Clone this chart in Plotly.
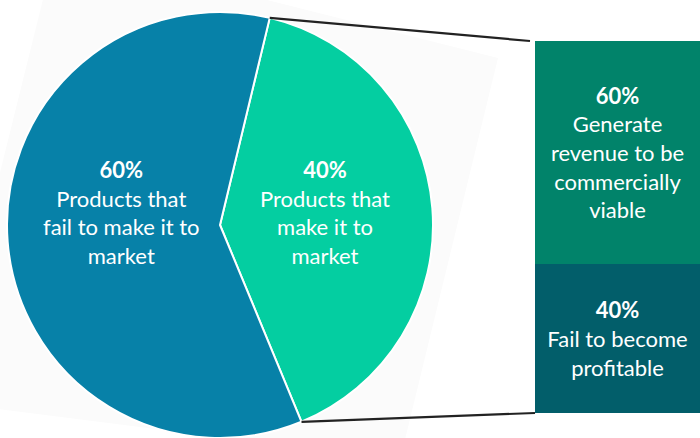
import math
import plotly.graph_objects as go

W, H = 700, 438

# ---- data ----
pie_labels = ["Products that<br>make it to<br>market", "Products that<br>fail to make it to<br>market"]
pie_values = [40, 60]
pie_colors = ["#04CEA1", "#0781A8"]

bar_labels = ["Fail to become<br>profitable", "Generate<br>revenue to be<br>commercially<br>viable"]
bar_values = [40, 60]
bar_colors = ["#025E6A", "#01836A"]

FONT = "Lato, 'Open Sans', sans-serif"
FS = 22

def px(x, y):
    return x / W, 1 - y / H

# pie geometry (pixels)
cx, cy, r = 220, 225, 213
rotation = 13.5

fig = go.Figure()

fig.add_trace(go.Pie(
    values=pie_values, labels=pie_labels, marker=dict(colors=pie_colors, line=dict(color="white", width=2)),
    sort=False, direction="clockwise", rotation=rotation, textinfo="none", hoverinfo="skip",
    showlegend=False,
    domain=dict(x=[(cx - r) / W, (cx + r) / W], y=[1 - (cy + r) / H, 1 - (cy - r) / H]),
))

for v, lab, col in zip(bar_values, bar_labels, bar_colors):
    fig.add_trace(go.Bar(
        x=[0], y=[v], width=1, marker=dict(color=col, line=dict(width=0)),
        text=[f"<b>{v}%</b><br>{lab}"], textposition="inside", insidetextanchor="middle",
        textangle=0, textfont=dict(color="white", size=FS, family=FONT),
        hoverinfo="skip", showlegend=False,
    ))

bar_left, bar_top, bar_bottom = 535, 41, 413

# faint background shape behind the pie
poly = [(56, -53), (498, 58), (400, 460), (-57, 402)]
path = "M " + " L ".join(f"{px(x, y)[0]:.5f} {px(x, y)[1]:.5f}" for x, y in poly) + " Z"
shapes = [dict(type="path", xref="paper", yref="paper", path=path,
               fillcolor="#FBFBFB", line=dict(width=0), layer="below")]

# connectors from pie slice edges to bar corners
share = pie_values[0] / sum(pie_values)
a0 = math.radians(rotation)
a1 = math.radians(rotation + 360 * share)
p0 = (cx + r * math.sin(a0), cy - r * math.cos(a0))
p1 = (cx + r * math.sin(a1), cy - r * math.cos(a1))
for (sx, sy), (ex, ey) in [(p0, (bar_left - 5, bar_top)), (p1, (bar_left, bar_bottom))]:
    x0, y0 = px(sx, sy)
    x1, y1 = px(ex, ey)
    shapes.append(dict(type="line", xref="paper", yref="paper", x0=x0, y0=y0, x1=x1, y1=y1,
                       line=dict(color="#222222", width=2.2)))

# pie labels
annotations = []
for (lx, ly), v, lab in zip([(325, 212), (121, 212)], pie_values, pie_labels):
    ax, ay = px(lx, ly)
    annotations.append(dict(x=ax, y=ay, xref="paper", yref="paper", showarrow=False,
                            xanchor="center", yanchor="middle",
                            text=f"<b>{v}%</b><br>{lab}", align="center",
                            font=dict(color="white", size=FS, family=FONT)))

fig.update_layout(
    width=W, height=H, margin=dict(l=0, r=0, t=0, b=0),
    paper_bgcolor="white", plot_bgcolor="rgba(0,0,0,0)",
    barmode="stack", bargap=0,
    xaxis=dict(domain=[bar_left / W, 1], range=[-0.5, 0.5], visible=False, fixedrange=True),
    yaxis=dict(domain=[1 - bar_bottom / H, 1 - bar_top / H], range=[0, 100], visible=False, fixedrange=True),
    shapes=shapes, annotations=annotations,
)

fig.write_html("out.html")
